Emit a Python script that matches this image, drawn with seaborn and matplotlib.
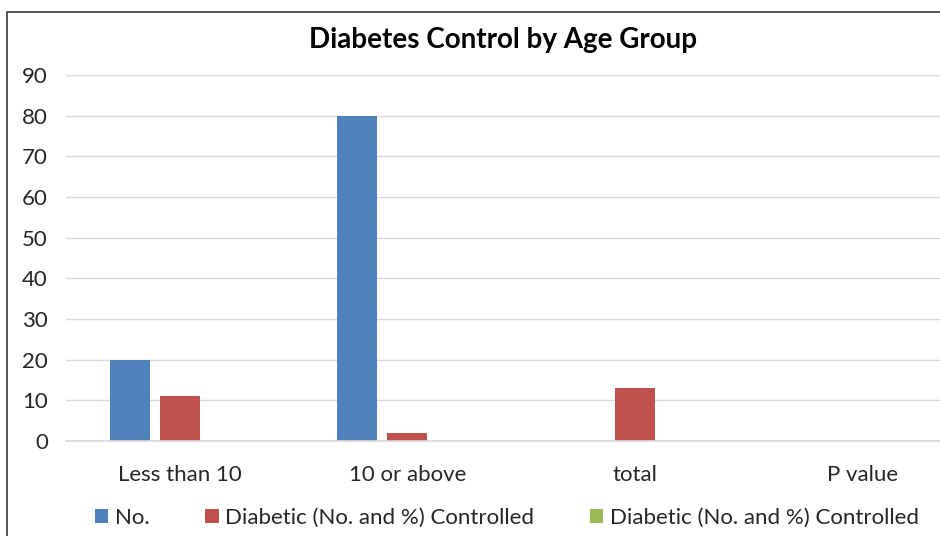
import matplotlib
matplotlib.use("Agg")
import matplotlib.pyplot as plt
import matplotlib.patches as mpatches
import seaborn as sns
import pandas as pd

# Chart data
categories = ["Less than 10", "10 or above", "total", "P value"]
series_labels = ["No.", "Diabetic (No. and %) Controlled", "Diabetic (No. and %) Controlled"]
no_values = [20, 80, 0, 0]
controlled_values = [11, 2, 13, 0]
controlled_pct_values = [0, 0, 0, 0]
y_ticks = [0, 10, 20, 30, 40, 50, 60, 70, 80, 90]

colors = ["#4f81bd", "#c0504d", "#9bbb59"]

series_values = [no_values, controlled_values, controlled_pct_values]
rows = []
for s_idx, vals in enumerate(series_values):
    for cat, v in zip(categories, vals):
        rows.append({"category": cat, "series": f"s{s_idx}", "value": v})
df = pd.DataFrame(rows)

sns.set_theme(style="white")
plt.rcParams["font.family"] = ["Lato", "DejaVu Sans"]

fig = plt.figure(figsize=(9.4, 5.36), dpi=100)
ax = fig.add_axes([66 / 940, 1 - 441 / 536, 910 / 940, 366 / 536])

sns.barplot(data=df, x="category", y="value", hue="series",
            hue_order=["s0", "s1", "s2"], palette=colors,
            width=0.66, gap=0.2, ax=ax, legend=False,
            edgecolor="none", linewidth=0, saturation=1)

ax.set_ylim(0, 90)
ax.set_yticks(y_ticks)
ax.set_xlim(-0.5, 3.5)
ax.yaxis.grid(True, color="#d9d9d9", linewidth=1)
ax.set_axisbelow(True)
for side in ["top", "right", "left"]:
    ax.spines[side].set_visible(False)
ax.spines["bottom"].set_color("#d9d9d9")
ax.spines["bottom"].set_linewidth(1.2)
ax.set_xlabel("")
ax.set_ylabel("")
ax.tick_params(axis="y", length=0, pad=13, labelsize=16, labelcolor="#262626")
ax.tick_params(axis="x", length=0, pad=17, labelsize=16, labelcolor="#262626")

fig.text(503 / 940, 1 - 40 / 536, "Diabetes Control by Age Group",
         ha="center", va="center", fontsize=20, fontweight="bold", color="#000000")

handles = [mpatches.Patch(facecolor=c, edgecolor="none") for c in colors]
fig.legend(handles, series_labels, loc="center left",
           bbox_to_anchor=(95 / 940, 1 - 518 / 536), ncol=3, frameon=False,
           fontsize=16, handlelength=0.6, handleheight=0.6, handletextpad=0.3,
           columnspacing=2.5, labelcolor="#262626", borderaxespad=0, borderpad=0)

# Outer chart frame, open to the right and bottom edges
frame_top = 1 - 12 / 536
fig.patches.append(mpatches.Rectangle((7 / 940, -0.2), 1.2, frame_top + 0.2,
                                      transform=fig.transFigure, fill=False,
                                      edgecolor="#3a3a3a", linewidth=1.2))

fig.savefig("out.png", dpi=100)
